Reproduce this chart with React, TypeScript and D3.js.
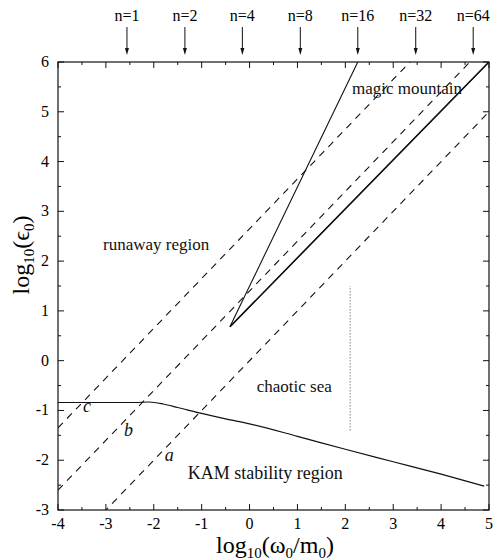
import React, { useEffect, useRef } from 'react';
import * as d3 from 'd3';

// data (log10 units)
const xTicks = [-4, -3, -2, -1, 0, 1, 2, 3, 4, 5];
const yTicks = [-3, -2, -1, 0, 1, 2, 3, 4, 5, 6];
const nLabels = ['n=1', 'n=2', 'n=4', 'n=8', 'n=16', 'n=32', 'n=64'];
const nPositions = [-2.56, -1.35, -0.15, 1.06, 2.26, 3.47, 4.67];

// KAM stability boundary
const kamX = [-4, -3, -2.4, -2.1, -1.8, -1.5, -1, -0.5, 0, 1, 2, 3, 4, 4.9];
const kamY = [-0.84, -0.84, -0.84, -0.83, -0.87, -0.94, -1.06, -1.17, -1.27, -1.52, -1.78, -2.03, -2.28, -2.52];

// dashed lines y = x + offset
const dashNames = ['a', 'b', 'c'];
const dashOffsets = [0, 1.4, 2.65];
const dashLabelX = [-1.77, -2.62, -3.48];
const dashLabelY = [-2.01, -1.51, -1.03];

// magic mountain triangle: upper edge end, tip, lower edge end
const mountainX = [2.26, -0.41, 5];
const mountainY = [6, 0.68, 6];

// dotted line
const dotX = [2.1, 2.1];
const dotY = [-1.4, 1.5];

const W = 495, H = 560;
const margin = { top: 62, right: 6, bottom: 50, left: 58 };

export default function App() {
  const ref = useRef<SVGSVGElement>(null);

  useEffect(() => {
    const svg = d3.select(ref.current);
    svg.selectAll('*').remove();
    const font = '"Liberation Serif", "DejaVu Serif", serif';

    const x = d3.scaleLinear().domain([-4, 5]).range([margin.left, W - margin.right]);
    const y = d3.scaleLinear().domain([-3, 6]).range([H - margin.bottom, margin.top]);
    const [x0, x1] = x.range();
    const [y0, y1] = y.range();

    svg.append('defs').append('clipPath').attr('id', 'clip')
      .append('rect').attr('x', x0).attr('y', y1).attr('width', x1 - x0).attr('height', y0 - y1);

    const plot = svg.append('g').attr('clip-path', 'url(#clip)');
    const line = d3.line<[number, number]>().x(d => x(d[0])).y(d => y(d[1]));

    // dashed lines
    dashOffsets.forEach(o => {
      plot.append('path')
        .attr('d', line([[-4, -4 + o], [5, 5 + o]]))
        .attr('fill', 'none').attr('stroke', '#111').attr('stroke-width', 1.1)
        .attr('stroke-dasharray', '7,6');
    });

    // KAM curve
    const kam = d3.line<number>().x((d, i) => x(kamX[i])).y((d, i) => y(kamY[i])).curve(d3.curveMonotoneX);
    plot.append('path').attr('d', kam(kamX)).attr('fill', 'none').attr('stroke', '#111').attr('stroke-width', 1.2);

    // magic mountain
    plot.append('path')
      .attr('d', line(mountainX.map((v, i) => [v, mountainY[i]] as [number, number])))
      .attr('fill', 'none').attr('stroke', '#111').attr('stroke-width', 1.1);
    // lower edge slightly heavier
    plot.append('path')
      .attr('d', line([[mountainX[1], mountainY[1]], [mountainX[2], mountainY[2]]]))
      .attr('fill', 'none').attr('stroke', '#111').attr('stroke-width', 1.5);

    // dotted line
    plot.append('path')
      .attr('d', line(dotX.map((v, i) => [v, dotY[i]] as [number, number])))
      .attr('fill', 'none').attr('stroke', '#444').attr('stroke-width', 1)
      .attr('stroke-dasharray', '1,2');

    // frame
    svg.append('rect').attr('x', x0).attr('y', y1).attr('width', x1 - x0).attr('height', y0 - y1)
      .attr('fill', 'none').attr('stroke', '#111').attr('stroke-width', 1.2);

    // ticks on all four sides, inward
    const ax = svg.append('g').attr('stroke', '#111').attr('stroke-width', 1);
    d3.range(-4, 5.01, 0.5).forEach(v => {
      const len = Number.isInteger(v) ? 6 : 3;
      ax.append('line').attr('x1', x(v)).attr('x2', x(v)).attr('y1', y0).attr('y2', y0 - len);
      ax.append('line').attr('x1', x(v)).attr('x2', x(v)).attr('y1', y1).attr('y2', y1 + len);
    });
    d3.range(-3, 6.01, 0.5).forEach(v => {
      const len = Number.isInteger(v) ? 6 : 3;
      ax.append('line').attr('y1', y(v)).attr('y2', y(v)).attr('x1', x0).attr('x2', x0 + len);
      ax.append('line').attr('y1', y(v)).attr('y2', y(v)).attr('x1', x1).attr('x2', x1 - len);
    });

    // tick labels
    svg.append('g').selectAll('text').data(xTicks).join('text')
      .attr('x', d => x(d)).attr('y', y0 + 19)
      .attr('text-anchor', 'middle').attr('font-family', font).attr('font-size', 16)
      .text(d => String(d));
    svg.append('g').selectAll('text').data(yTicks).join('text')
      .attr('x', x0 - 9).attr('y', d => y(d) + 5)
      .attr('text-anchor', 'end').attr('font-family', font).attr('font-size', 16)
      .text(d => String(d));

    // axis titles
    const xt = svg.append('text').attr('x', 275).attr('y', 553)
      .attr('text-anchor', 'middle').attr('font-family', font).attr('font-size', 24);
    xt.append('tspan').text('log');
    xt.append('tspan').attr('font-size', 15).attr('dy', 5).text('10');
    xt.append('tspan').attr('dy', -5).text('(ω');
    xt.append('tspan').attr('font-size', 15).attr('dy', 5).text('0');
    xt.append('tspan').attr('dy', -5).text('/m');
    xt.append('tspan').attr('font-size', 15).attr('dy', 5).text('0');
    xt.append('tspan').attr('dy', -5).text(')');

    const yt = svg.append('text').attr('transform', `translate(29, 255) rotate(-90)`)
      .attr('text-anchor', 'middle').attr('font-family', font).attr('font-size', 24);
    yt.append('tspan').text('log');
    yt.append('tspan').attr('font-size', 15).attr('dy', 5).text('10');
    yt.append('tspan').attr('dy', -5).text('(ϵ');
    yt.append('tspan').attr('font-size', 15).attr('dy', 5).text('0');
    yt.append('tspan').attr('dy', -5).text(')');

    // n arrows on top
    const arrows = svg.append('g');
    nPositions.forEach((p, i) => {
      const px = x(p);
      arrows.append('text').attr('x', px).attr('y', 21)
        .attr('text-anchor', 'middle').attr('font-family', font).attr('font-size', 16)
        .text(nLabels[i]);
      arrows.append('line').attr('x1', px).attr('x2', px).attr('y1', 27).attr('y2', 50)
        .attr('stroke', '#111').attr('stroke-width', 1);
      arrows.append('path').attr('d', `M${px - 2},${48} L${px + 2},${48} L${px},${55} Z`).attr('fill', '#111');
    });

    // region labels
    const label = (t: string, lx: number, ly: number, size = 17, italic = false) =>
      svg.append('text').attr('x', x(lx)).attr('y', y(ly))
        .attr('font-family', font).attr('font-size', size)
        .attr('font-style', italic ? 'italic' : 'normal').attr('fill', '#111').text(t);
    label('magic mountain', 2.14, 5.36);
    label('runaway region', -3.06, 2.22);
    label('chaotic sea', 0.15, -0.63);
    label('KAM stability region', -1.29, -2.37, 18);
    dashNames.forEach((n, i) => label(n, dashLabelX[i], dashLabelY[i], 18, true));
  }, []);

  return (
    <svg ref={ref} width={W} height={H} style={{ display: 'block', position: 'absolute', left: 0, top: 0, background: '#fff' }} />
  );
}
